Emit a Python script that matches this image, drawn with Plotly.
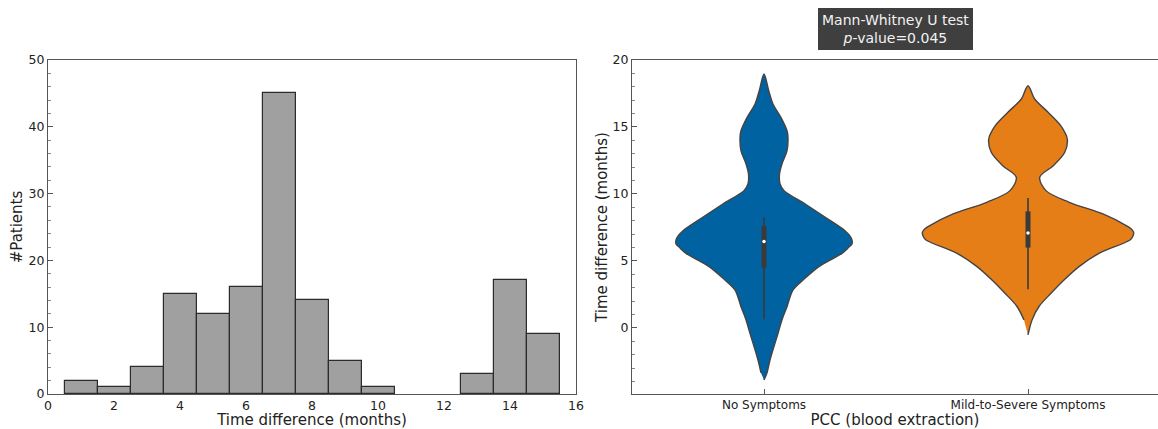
import plotly.graph_objects as go

# ---------------- data: histogram ----------------
bin_centers = [1, 2, 3, 4, 5, 6, 7, 8, 9, 10, 11, 12, 13, 14, 15]
patient_counts = [2, 1, 4, 15, 12, 16, 45, 14, 5, 1, 0, 0, 3, 17, 9]
hist_xticks = [0, 2, 4, 6, 8, 10, 12, 14, 16]
hist_yticks = [0, 10, 20, 30, 40, 50]

# ---------------- data: violins (density profiles) ----------------
groups = ["No Symptoms", "Mild-to-Severe Symptoms"]

nosym_time = [-3.88, -3.36, -2.39, -1.37, -0.4, 0.6, 1.59, 2.84, 3.58, 4.58, 5.57, 6.0,
              6.27, 6.57, 6.9, 7.26, 8.26, 9.25, 10.25, 10.75, 11.49, 12.24, 13.23, 14.23,
              14.72, 15.72, 16.72, 17.71, 18.96]
nosym_density = [0, 0.028, 0.057, 0.095, 0.133, 0.17, 0.218, 0.275, 0.37, 0.52, 0.739, 0.80,
                 0.833, 0.833, 0.81, 0.767, 0.58, 0.39, 0.19, 0.152, 0.147, 0.17, 0.218, 0.227,
                 0.218, 0.16, 0.085, 0.045, 0]

mild_time = [-0.52, 0.6, 1.6, 2.59, 3.58, 4.58, 5.57, 6.57, 6.85, 7.15, 7.4, 7.64, 8.51,
             9.38, 10.25, 11.25, 12.11, 13.11, 14.1, 15.1, 16.1, 17.09, 18.08]
mild_density = [0, 0.038, 0.104, 0.218, 0.341, 0.483, 0.672, 0.966, 0.993, 1.0, 0.975, 0.93,
                0.71, 0.39, 0.17, 0.111, 0.24, 0.348, 0.372, 0.31, 0.19, 0.063, 0]

# inner box stats: [lower whisker, Q1, median, Q3, upper whisker]
nosym_box = [0.65, 4.5, 6.45, 7.6, 8.26]
mild_box = [2.89, 6.0, 7.09, 8.7, 9.7]

violin_yticks = [0, 5, 10, 15, 20]
p_value = 0.045

# ---------------- styling ----------------
W, H = 1158, 429
FONT = "DejaVu Sans"
TXT = "#222222"
SPINE = "#555555"
colors = ["#0062A0", "#E67E17"]
half_width = 0.4

fig = go.Figure()

# histogram bars (empty bins carry no bar)
shown = [(c, n) for c, n in zip(bin_centers, patient_counts) if n > 0]
fig.add_trace(go.Bar(
    x=[c for c, _ in shown], y=[n for _, n in shown], width=1,
    marker=dict(color="#A0A0A0", line=dict(color="#2b2b2b", width=1.2)),
    xaxis="x", yaxis="y", showlegend=False, hoverinfo="x+y"))

# violins
profiles = [(nosym_time, nosym_density, nosym_box), (mild_time, mild_density, mild_box)]
for i, (tv, dv, bx) in enumerate(profiles):
    right_x = [i + half_width * d for d in dv]
    right_y = list(tv)
    left_x = [i - half_width * d for d in dv][1:-1][::-1]
    left_y = list(tv)[1:-1][::-1]
    fig.add_trace(go.Scatter(
        x=right_x + left_x, y=right_y + left_y, mode="lines", fill="toself",
        fillcolor=colors[i], line=dict(color="#444444", width=1.4, shape="spline", smoothing=0.9),
        xaxis="x2", yaxis="y2", showlegend=False, hoverinfo="skip"))
    fig.add_trace(go.Scatter(
        x=[i, i], y=[bx[0], bx[4]], mode="lines", line=dict(color="#3a3a3a", width=1.6),
        xaxis="x2", yaxis="y2", showlegend=False, hoverinfo="skip"))
    fig.add_trace(go.Scatter(
        x=[i, i], y=[bx[1], bx[3]], mode="lines", line=dict(color="#3a3a3a", width=5),
        xaxis="x2", yaxis="y2", showlegend=False, hoverinfo="skip"))
    fig.add_trace(go.Scatter(
        x=[i], y=[bx[2]], mode="markers",
        marker=dict(color="white", size=3.5, line=dict(width=0)),
        xaxis="x2", yaxis="y2", showlegend=False, hoverinfo="y"))

ydom = [35 / H, 369 / H]
axis_common = dict(showline=True, linecolor=SPINE, linewidth=1, mirror=True,
                   showgrid=False, zeroline=False, automargin=False,
                   tickfont=dict(family=FONT, size=12.5, color=TXT))

fig.update_layout(
    width=W, height=H, margin=dict(l=0, r=0, t=0, b=0, autoexpand=False),
    paper_bgcolor="white", plot_bgcolor="white",
    font=dict(family=FONT, color=TXT),
    bargap=0,
    xaxis=dict(domain=[48 / W, 576 / W], range=[0, 16], tickvals=hist_xticks,
               ticks="", title=dict(text="Time difference (months)",
                                    font=dict(family=FONT, size=15, color=TXT), standoff=6),
               **axis_common),
    yaxis=dict(domain=ydom, range=[0, 50], tickvals=hist_yticks,
               ticks="inside", ticklen=5, tickcolor=SPINE,
               minor=dict(ticks="inside", ticklen=2.5, dtick=2, tickcolor="#888888"),
               title=dict(text="#Patients", font=dict(family=FONT, size=15, color=TXT),
                          standoff=2),
               anchor="x", **axis_common),
    xaxis2=dict(domain=[632 / W, 1.0], range=[-0.5, 1.4924], tickvals=[0, 1],
                ticktext=groups, ticks="inside", ticklen=5, tickcolor=SPINE,
                tickfont=dict(family=FONT, size=12, color=TXT),
                title=dict(text="PCC (blood extraction)",
                           font=dict(family=FONT, size=15, color=TXT), standoff=6),
                anchor="y2", showline=True, linecolor=SPINE, linewidth=1, mirror=True,
                showgrid=False, zeroline=False, automargin=False),
    yaxis2=dict(domain=ydom, range=[-4.93, 20.0], tickvals=violin_yticks,
                ticks="inside", ticklen=5, tickcolor=SPINE,
                minor=dict(ticks="inside", ticklen=2.5, dtick=1, tickcolor="#888888"),
                title=dict(text="Time difference (months)",
                           font=dict(family=FONT, size=15, color=TXT), standoff=1),
                anchor="x2", **axis_common),
)

fig.add_annotation(
    x=(632 / W + 1.0) / 2, y=(H - 28.5) / H, xref="paper", yref="paper",
    text=f"Mann-Whitney U test<br><i>p</i>-value={p_value}",
    showarrow=False, align="center", xanchor="center", yanchor="middle",
    font=dict(family=FONT, size=14, color="#F2F2F2"),
    bgcolor="#3F3F3F", bordercolor="#3F3F3F", borderwidth=1, borderpad=3)

fig.write_html("out.html")
